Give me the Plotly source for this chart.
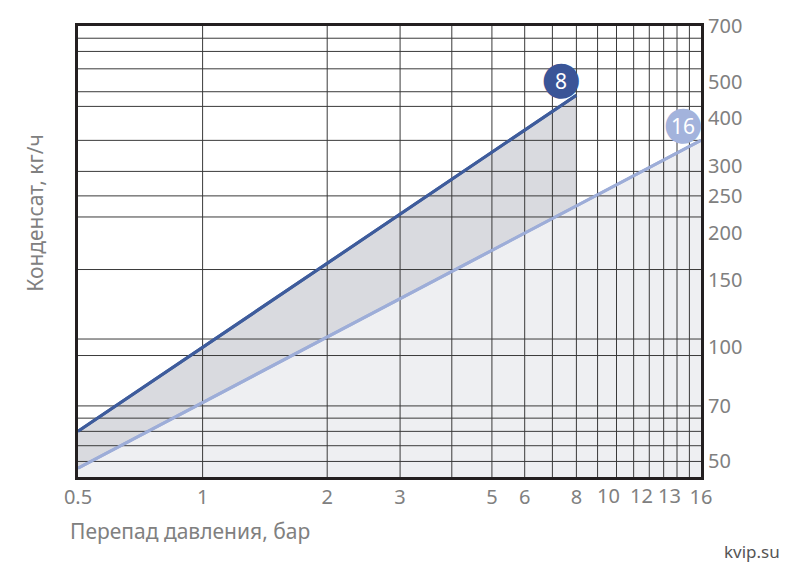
import math
import plotly.graph_objects as go

# Data: pressure drop (bar) vs condensate (kg/h) for two models
dp_8 = [0.5, 8]
q_8 = [60, 460]
dp_16 = [0.5, 16]
q_16 = [48, 350]

x_ticks = [0.5, 1, 2, 3, 5, 6, 8, 10, 12, 13, 16]
x_crowded = {10: -8, 12: -8, 13: 6}   # labels nudged sideways (pixels) so they don't collide
x_grid = [1, 2, 3, 4, 5, 6, 7, 8, 9, 10, 11, 12, 13, 14, 15]
y_ticks = [50, 70, 100, 150, 200, 250, 300, 400, 500, 700]
y_grid = [50, 55, 60, 65, 70, 95, 105, 160, 220, 250, 290, 350, 430, 470, 540, 600, 650]

FONT = "Noto Sans"
GREY = "#808080"
DARK = "#3e5c9c"
LIGHT = "#9dadd8"
GRID = "#3a3a3a"

lg = math.log10

fig = go.Figure()
fig.add_trace(go.Scatter(x=dp_8, y=q_8, mode="lines", fill="tozeroy",
                         fillcolor="#d9dadf", line=dict(color=DARK, width=3),
                         hoverinfo="skip", showlegend=False))
fig.add_trace(go.Scatter(x=dp_16, y=q_16, mode="lines", fill="tozeroy",
                         fillcolor="#eeeff2", line=dict(color=LIGHT, width=3),
                         hoverinfo="skip", showlegend=False))

axis_x_ticks = [v for v in x_ticks if v not in x_crowded]
fig.update_xaxes(type="log", range=[lg(0.5), lg(16)],
                 tickmode="array", tickvals=axis_x_ticks,
                 ticktext=[("%g" % v) for v in axis_x_ticks], tickangle=0,
                 showgrid=False, zeroline=False,
                 showline=True, linecolor="#231f20", linewidth=3, mirror=True,
                 ticks="", tickfont=dict(family=FONT, size=20, color=GREY),
                 layer="above traces")
fig.update_yaxes(type="log", range=[lg(45.5), lg(700)], side="right",
                 tickmode="array", tickvals=y_ticks, ticktext=[str(v) for v in y_ticks],
                 showgrid=False, zeroline=False,
                 showline=True, linecolor="#231f20", linewidth=3, mirror=True,
                 ticks="", tickfont=dict(family=FONT, size=20, color=GREY),
                 layer="above traces")

for v, shift in x_crowded.items():
    fig.add_annotation(x=lg(v), y=0, xref="x", yref="paper", text="%g" % v,
                       showarrow=False, xshift=shift, yanchor="top", yshift=-3,
                       font=dict(family=FONT, size=20, color=GREY))

# grid drawn above the filled areas (shape positions are data values)
for gx in x_grid:
    fig.add_shape(type="line", xref="x", yref="paper", x0=gx, x1=gx, y0=0, y1=1,
                  line=dict(color=GRID, width=1), layer="above")
for gy in y_grid:
    fig.add_shape(type="line", xref="paper", yref="y", x0=0, x1=1, y0=gy, y1=gy,
                  line=dict(color=GRID, width=1), layer="above")

# series lines redrawn above the grid
for xs, ys, col in [(dp_8, q_8, DARK), (dp_16, q_16, LIGHT)]:
    fig.add_shape(type="line", xref="x", yref="y", x0=xs[0], y0=ys[0],
                  x1=xs[-1], y1=ys[-1], line=dict(color=col, width=3), layer="above")

# numbered circles at line ends
for xs, ys, col, label, dx in [(dp_8, q_8, "#3a5597", "8", -15), (dp_16, q_16, "#a3b3dc", "16", -18)]:
    fig.add_annotation(x=lg(xs[-1]), y=lg(ys[-1]), xref="x", yref="y",
                       text="\u25cf", showarrow=False, xshift=dx, yshift=18,
                       font=dict(family="DejaVu Sans", size=46, color=col))
    fig.add_annotation(x=lg(xs[-1]), y=lg(ys[-1]), xref="x", yref="y",
                       text=label, showarrow=False, xshift=dx, yshift=14,
                       font=dict(family=FONT, size=21, color="white"))

fig.add_annotation(text="Перепад давления, бар", xref="paper", yref="paper",
                   x=-0.016, y=-0.12, xanchor="left", yanchor="middle", showarrow=False,
                   font=dict(family=FONT, size=21, color=GREY))
fig.add_annotation(text="Конденсат, кг/ч", xref="paper", yref="paper",
                   x=-0.068, y=0.585, xanchor="center", yanchor="middle", textangle=-90,
                   showarrow=False, font=dict(family=FONT, size=21, color=GREY))
fig.add_annotation(text="kvip.su", xref="paper", yref="paper",
                   x=1.13, y=-0.165, xanchor="right", yanchor="middle", showarrow=False,
                   font=dict(family=FONT, size=17, color="#555555"))

fig.update_layout(width=794, height=577, margin=dict(l=78, r=93, t=21, b=100),
                  paper_bgcolor="white", plot_bgcolor="white")
fig.write_html("out.html", config={"displayModeBar": False},
               post_script="document.body.style.margin='0';")
